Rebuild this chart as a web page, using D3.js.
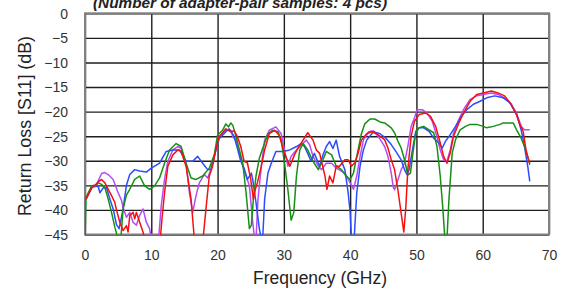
<!DOCTYPE html>
<html><head><meta charset="utf-8">
<script src="https://cdn.jsdelivr.net/npm/d3@7"></script>
<style>
html,body{margin:0;padding:0;background:#fff;}
svg{display:block;}
text{font-family:"Liberation Sans",Arial,sans-serif;}
</style></head>
<body>
<svg id="chart" width="563" height="293"></svg>
<script>
const titleText = "(Number of adapter-pair samples: 4 pcs)";
const xLabel = "Frequency (GHz)";
const yLabel = "Return Loss [S11] (dB)";
const xTicks = [0,10,20,30,40,50,60,70];
const yTicks = [0,-5,-10,-15,-20,-25,-30,-35,-40,-45];

// [GHz, dB] samples
const seriesRed = [[0.15,-37.8],[1,-35.5],[1.5,-35],[2,-34.3],[2.5,-33.8],[3,-34.5],[3.5,-35.8],[4,-37.1],[4.5,-38.5],[4.75,-40],[5.25,-42.5],[5.75,-44.2],[6.25,-43.2],[6.5,-44.5],[6.75,-41.2],[7.25,-40.5],[7.5,-41.8],[7.75,-40.5],[8.25,-42.5],[8.75,-44.5],[9.2,-47],[11.3,-47],[11.6,-42],[12,-36.5],[12.5,-31.1],[13.25,-28.8],[14,-27.8],[14.5,-28.1],[15.25,-31.1],[16,-37.8],[16.5,-46],[17.8,-46],[18.25,-39.8],[18.75,-33.1],[19.25,-31.1],[19.75,-27.5],[20.25,-25.1],[21.25,-23.5],[22,-24.1],[22.5,-23.9],[23,-25.1],[23.5,-27.1],[24,-30.1],[24.5,-30.4],[25,-33.8],[25.4,-37.8],[25.7,-35.8],[26,-34.5],[26.6,-31.1],[27.1,-27.8],[27.8,-24.5],[28.6,-23.8],[29.3,-24.8],[30.1,-28.5],[30.9,-31.1],[31.6,-28.8],[32.1,-27.5],[32.9,-25.8],[33.6,-24.3],[34.4,-25.8],[34.9,-27.8],[35.4,-28.5],[36.2,-33.1],[36.5,-35.8],[36.9,-33.1],[37.4,-34.5],[37.9,-31.1],[38.4,-31.1],[39.2,-29.8],[39.7,-29.8],[40.2,-31.1],[40.7,-30.4],[41.2,-28.5],[41.7,-25.8],[42.5,-24.5],[43.2,-24.1],[44,-24.5],[44.7,-25.2],[45.2,-25.7],[45.7,-27.4],[46.2,-29.8],[46.7,-31.8],[47.2,-35.9],[47.7,-40.7],[48.1,-44.5],[48.4,-39.5],[48.7,-31.8],[49.2,-25],[49.7,-22],[50.4,-20.6],[51.4,-20.3],[52.1,-20.9],[52.9,-23],[53.6,-26.4],[54.1,-29.1],[54.6,-30.5],[55.1,-28.4],[55.6,-25],[56.4,-22.3],[57.1,-20.3],[58.1,-17.9],[59.1,-16.5],[60.1,-16.2],[61.3,-15.8],[62.3,-16.2],[63.3,-16.8],[64.3,-18.5],[65.1,-20.6],[65.6,-22.6],[66.1,-24],[66.6,-28.4],[67.1,-30.5]];

const seriesPurple = [[0.15,-37.8],[1,-35.5],[1.75,-34.8],[2.5,-32.6],[3,-32.4],[3.5,-32.8],[4.25,-33.8],[5,-36.5],[5.5,-38],[5.75,-39.5],[6.25,-41.5],[6.75,-40.5],[7.25,-42.5],[7.75,-43.1],[8.25,-41.1],[8.75,-39.8],[9.25,-42.5],[9.75,-43.8],[10,-46],[11.1,-46],[11.5,-39.1],[12,-33.8],[12.5,-30.1],[13.25,-27.8],[14,-27.1],[14.5,-27.5],[15.25,-30.5],[15.75,-36.5],[16.25,-40.5],[16.75,-37.1],[17.25,-34.5],[18,-32.8],[18.5,-33.5],[19,-31.8],[19.75,-27.8],[20.25,-25.1],[21.25,-23.8],[22,-23.8],[22.3,-25.1],[22.8,-25.8],[23.3,-28.5],[23.8,-31.1],[24.3,-33.1],[24.8,-35.1],[25.3,-42.5],[25.6,-46],[25.8,-46],[26.1,-37.8],[26.6,-31.1],[27.1,-25.8],[27.8,-23.8],[28.8,-23.1],[29.6,-24.5],[30.1,-27.8],[30.6,-31.1],[31.1,-29.1],[31.9,-27.8],[32.6,-26.8],[33.4,-25.8],[33.9,-26.8],[34.4,-29.1],[35.2,-31.1],[35.7,-31.8],[36.4,-30.5],[37.2,-30.5],[37.9,-31.5],[38.7,-32.1],[39.2,-32.5],[40,-34.5],[40.5,-35.8],[41,-33.1],[41.5,-29.1],[42,-25.8],[42.8,-24.1],[43.5,-23.9],[44.2,-25],[44.7,-26],[45.2,-27.1],[45.7,-29.1],[46.2,-32.5],[46.5,-35.3],[46.7,-35.9],[47.2,-33.9],[47.7,-31.8],[48.2,-30.5],[48.7,-27.1],[49.2,-23],[49.7,-21.3],[50.1,-19.6],[50.9,-19.6],[51.6,-20.3],[52.4,-22],[53.1,-25.1],[53.6,-27.8],[54.1,-29.8],[54.6,-30.1],[55.1,-27.8],[55.6,-24.4],[56.4,-21.6],[57.1,-19.6],[58.1,-17.5],[59.1,-16.8],[60.1,-16.5],[61.3,-16.2],[62.3,-16.5],[63.3,-17.2],[64.3,-18.5],[65.1,-20.3],[65.8,-23],[66.3,-23.7],[67.1,-23.7]];

const seriesGreen = [[0,-47],[0.15,-37.5],[1,-35.1],[1.5,-35.3],[2,-34.5],[2.5,-34.8],[3,-35.5],[3.5,-37.8],[4,-40.5],[4.5,-43.5],[5,-46],[5.4,-46],[5.75,-39.8],[6.25,-37],[6.75,-35.8],[7.5,-33.8],[8.25,-33.1],[9,-35.1],[9.75,-35.8],[10.5,-35.1],[11.25,-33.5],[12,-30.5],[12.75,-27.8],[13.75,-26.5],[14.5,-27.1],[15.25,-30.5],[16,-33.5],[16.75,-33.8],[17.75,-33.1],[18.75,-31.5],[19.5,-28.8],[20,-24.8],[20.75,-23.8],[21.25,-22.5],[21.65,-23.1],[22,-22.3],[22.3,-22.8],[22.8,-25.1],[23.3,-27.8],[23.8,-30.5],[24.3,-36.5],[24.8,-43.8],[25.1,-43.1],[25.4,-37.8],[25.8,-33.1],[26.3,-29.5],[26.8,-27.5],[27.6,-24.5],[28.3,-23.8],[29.1,-24.1],[29.6,-25.8],[30.1,-30.5],[30.6,-35.8],[31.1,-42.1],[31.5,-40.5],[31.9,-33.1],[32.4,-27.8],[32.9,-26.5],[33.6,-27.8],[34.4,-30.1],[35.2,-31.8],[35.9,-29.8],[36.4,-28.1],[37.2,-28.8],[37.9,-31.1],[38.7,-31.8],[39.2,-32.8],[40,-33.8],[40.5,-32.5],[41,-29.1],[41.7,-24.5],[42.2,-22.5],[43,-21.5],[43.7,-21.5],[44.5,-22.1],[45.2,-22.3],[46.2,-23.3],[46.7,-24.3],[47.2,-26],[47.7,-27.4],[48.2,-29.8],[48.7,-32.9],[49.1,-32.5],[49.4,-29.1],[49.9,-24.3],[50.4,-23.3],[51.1,-23],[51.9,-23.7],[52.6,-24.3],[53.1,-27.1],[53.6,-33.2],[54,-40],[54.3,-46],[54.6,-46],[54.9,-38],[55.4,-28.4],[55.9,-25.7],[56.6,-23.7],[57.4,-23],[58.1,-22.6],[59.1,-22.6],[60.1,-23],[60.6,-23.3],[61.6,-23],[62.6,-22.6],[63.1,-22.3],[63.8,-22.3],[64.6,-22.3],[65.1,-23.7],[65.8,-25.4],[66.6,-28.1],[67.1,-30.8]];

const seriesBlue = [[0.15,-37.8],[1,-35.5],[1.25,-35],[2,-35.3],[2.25,-36.5],[2.75,-35.5],[3.25,-35.5],[3.75,-37.8],[4.25,-39.8],[4.75,-43],[5.15,-43.8],[5.75,-39.8],[6.25,-35],[6.75,-32.8],[7.5,-31.8],[8.25,-32.1],[9.25,-32.3],[10,-31.5],[11.25,-30.5],[12.25,-28.1],[13.25,-27.8],[14.25,-27.8],[15.25,-30.1],[16.25,-30.1],[17,-29.1],[17.75,-30.5],[18.5,-31.8],[19,-31.8],[19.75,-27.8],[20.25,-25.5],[21.25,-24.1],[21.75,-23.5],[22.25,-24.5],[22.5,-25.1],[23,-27.5],[23.5,-30.1],[24,-31.5],[24.5,-33.8],[25.1,-32.5],[25.3,-33.8],[25.8,-38.5],[26.3,-43.8],[26.6,-46],[26.8,-46],[27.1,-37.8],[27.6,-32.5],[28.1,-30.5],[28.8,-28.1],[29.8,-28.1],[30.9,-27.8],[31.9,-27.1],[32.6,-26.5],[33.1,-27.1],[33.6,-28.5],[34.1,-30.1],[34.6,-28.5],[35.4,-31.1],[35.9,-28.8],[36.4,-27.1],[36.9,-26.1],[37.4,-27.5],[37.9,-25.8],[38.4,-29.1],[39.2,-31.8],[39.7,-36.5],[40,-40.5],[40.2,-46],[40.6,-46],[41,-36.5],[41.5,-31.1],[42,-27.8],[42.5,-25.8],[43.5,-24.1],[44.5,-24.5],[45.4,-25.4],[46.2,-26.7],[46.9,-28.1],[47.7,-29.8],[48.2,-31.8],[48.6,-32.9],[48.9,-31.8],[49.4,-27.8],[49.9,-24],[50.4,-23.3],[51.1,-23.3],[51.9,-24],[52.6,-25.4],[53.4,-26.4],[53.9,-27.4],[54.4,-26],[55.1,-24.7],[55.9,-23],[56.6,-21.3],[57.6,-19.6],[58.6,-18.5],[59.6,-17.9],[60.6,-17.2],[61.8,-16.8],[63.1,-17.2],[64.1,-18.2],[65.1,-20.6],[65.8,-23.7],[66.3,-27.1],[66.8,-31.2],[67.1,-34.2]];

const series = [
  {name:"purple", color:"#b64cf5", data:seriesPurple},
  {name:"blue",   color:"#2b4cff", data:seriesBlue},
  {name:"green",  color:"#159015", data:seriesGreen},
  {name:"red",    color:"#f51010", data:seriesRed}
];

const svg = d3.select("#chart");
const L = 85, R = 549, T = 13.3, B = 234.5;
const x = d3.scaleLinear().domain([0,70]).range([L,R]);
const y = d3.scaleLinear().domain([-45,0]).range([B,T]);

// gridlines via axes
const gx = svg.append("g").attr("transform",`translate(0,${B})`)
  .call(d3.axisBottom(x).tickValues(xTicks).tickSize(-(B-T)).tickPadding(15.5));
const gy = svg.append("g").attr("transform",`translate(${L},0)`)
  .call(d3.axisLeft(y).tickValues(yTicks).tickSize(-(R-L)).tickPadding(17));
[gx,gy].forEach(g=>{
  g.select(".domain").remove();
  g.selectAll(".tick line").attr("stroke","#1e1e1e").attr("stroke-width",1.4);
  g.selectAll(".tick text").attr("fill","#333").style("font-size","14px")
    .style("font-family","'Liberation Sans',Arial,sans-serif");
});
gy.selectAll(".tick text").attr("dy","0.35em");

// frame
svg.append("rect").attr("x",L).attr("y",T).attr("width",R-L).attr("height",B-T)
  .attr("fill","none").attr("stroke","#808080").attr("stroke-width",2);

// curves
svg.append("clipPath").attr("id","clip").append("rect")
  .attr("x",L).attr("y",T).attr("width",R-L).attr("height",B-T+0.5);
const line = d3.line().x(d=>x(d[0])).y(d=>y(d[1]));
svg.append("g").attr("clip-path","url(#clip)")
  .selectAll("path").data(series).join("path")
  .attr("d",d=>line(d.data)).attr("fill","none")
  .attr("stroke",d=>d.color).attr("stroke-width",1.5).attr("stroke-linejoin","round");

// labels
svg.append("text").attr("x",240).attr("y",7.5).attr("text-anchor","middle")
  .attr("textLength",294).attr("lengthAdjust","spacingAndGlyphs")
  .style("font-size","15px").style("font-weight","bold").style("font-style","italic")
  .attr("fill","#222").text(titleText);
svg.append("text").attr("x",320).attr("y",284).attr("text-anchor","middle")
  .attr("textLength",134).attr("lengthAdjust","spacingAndGlyphs")
  .style("font-size","18px").attr("fill","#222").text(xLabel);
svg.append("text").attr("transform","translate(31,126) rotate(-90)").attr("text-anchor","middle")
  .attr("textLength",180).attr("lengthAdjust","spacingAndGlyphs")
  .style("font-size","19px").attr("fill","#222").text(yLabel);
</script>
</body></html>
